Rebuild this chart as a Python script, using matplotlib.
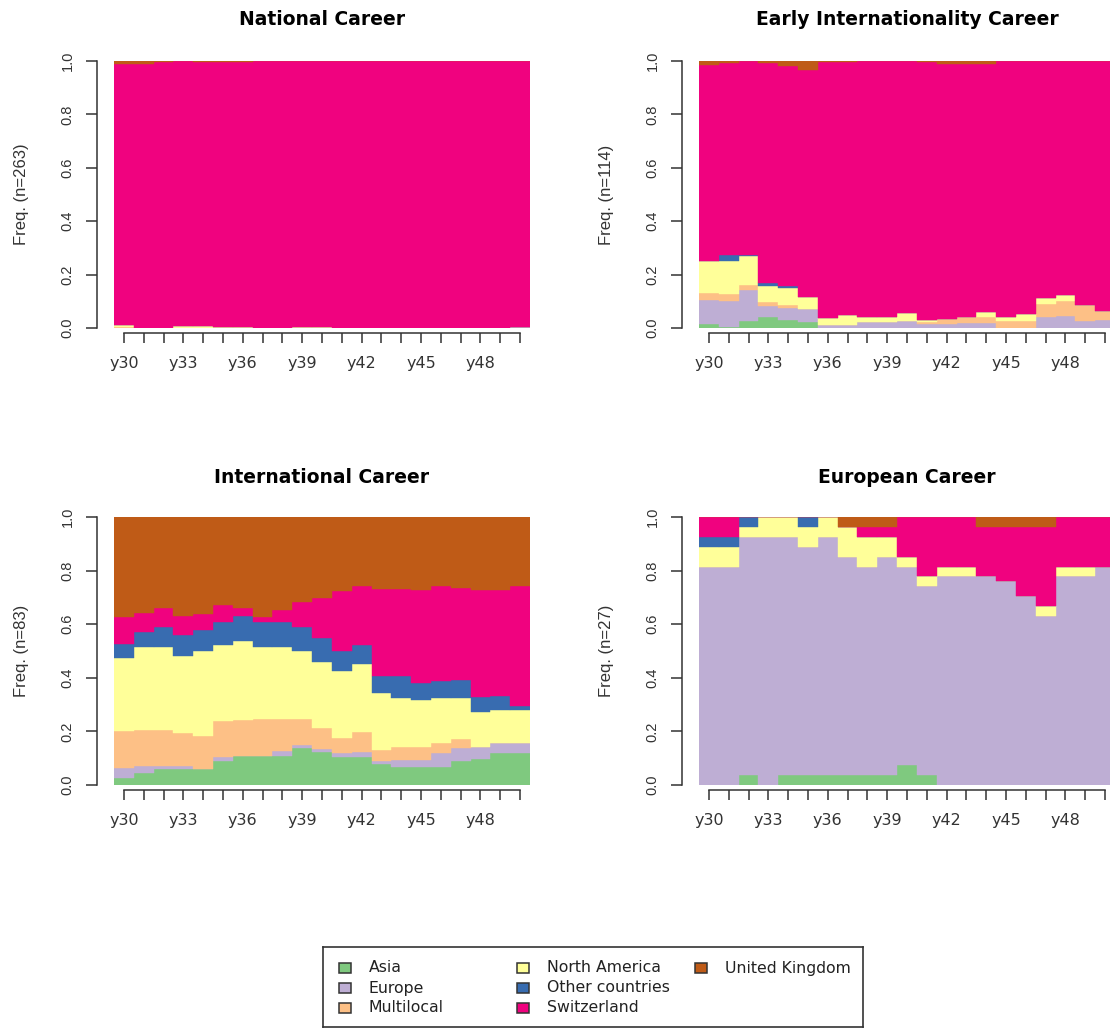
import numpy as np
import matplotlib
matplotlib.use("Agg")
import matplotlib.pyplot as plt
from matplotlib.patches import Rectangle

# time axis and states (TraMineR-style state distribution plot)
years = ["y30", "y31", "y32", "y33", "y34", "y35", "y36", "y37", "y38", "y39", "y40",
         "y41", "y42", "y43", "y44", "y45", "y46", "y47", "y48", "y49", "y50"]
states = ["Asia", "Europe", "Multilocal", "North America", "Other countries",
          "Switzerland", "United Kingdom"]
state_colors = ["#7FC97F", "#BEAED4", "#FDC086", "#FFFF99", "#386CB0", "#F0027F", "#BF5B17"]

# National Career (n=263)
nat_asia = [0] * 21
nat_europe = [0, 0, 0, 0, 0, 0, 0, 0, 0, 0, 0, 0, 0, 0, 0, 0, 0, 0, 0, 0, 0.004]
nat_multi = [0.004, 0, 0, 0, 0, 0, 0, 0, 0, 0, 0, 0, 0, 0, 0, 0, 0, 0, 0, 0, 0]
nat_namerica = [0.008, 0, 0, 0.008, 0.008, 0.004, 0.004, 0, 0, 0.004, 0.004,
                0, 0, 0, 0, 0, 0, 0, 0, 0, 0]
nat_other = [0] * 21
nat_swiss = [0.977, 0.989, 0.996, 0.992, 0.988, 0.992, 0.992, 1.0, 1.0, 0.996, 0.996,
             1.0, 1.0, 1.0, 1.0, 1.0, 1.0, 1.0, 1.0, 1.0, 0.996]
nat_uk = [0.011, 0.011, 0.004, 0, 0.004, 0.004, 0.004, 0, 0, 0, 0,
          0, 0, 0, 0, 0, 0, 0, 0, 0, 0]

# Early Internationality Career (n=114)
early_asia = [0.015, 0.005, 0.028, 0.04, 0.03, 0.023, 0, 0, 0, 0, 0,
              0, 0, 0, 0, 0, 0, 0, 0, 0, 0]
early_europe = [0.088, 0.095, 0.113, 0.044, 0.045, 0.05, 0.013, 0.013, 0.023, 0.023, 0.028,
                0.015, 0.015, 0.019, 0.019, 0, 0, 0.041, 0.046, 0.025, 0.031]
early_multi = [0.029, 0.028, 0.019, 0.014, 0.01, 0, 0, 0, 0, 0, 0,
               0.006, 0.019, 0.021, 0.021, 0.025, 0.028, 0.05, 0.054, 0.06, 0.031]
early_namerica = [0.118, 0.123, 0.11, 0.061, 0.063, 0.044, 0.025, 0.034, 0.018, 0.018, 0.029,
                  0.009, 0, 0, 0.019, 0.015, 0.023, 0.021, 0.024, 0, 0]
early_other = [0, 0.024, 0.005, 0.01, 0.009, 0, 0, 0, 0, 0, 0,
               0, 0, 0, 0, 0, 0, 0, 0, 0, 0]
early_swiss = [0.735, 0.719, 0.725, 0.825, 0.825, 0.849, 0.957, 0.948, 0.959, 0.959, 0.943,
               0.965, 0.955, 0.949, 0.930, 0.96, 0.949, 0.888, 0.876, 0.915, 0.938]
early_uk = [0.015, 0.006, 0, 0.006, 0.018, 0.034, 0.005, 0.005, 0, 0, 0,
            0.005, 0.011, 0.011, 0.011, 0, 0, 0, 0, 0, 0]

# International Career (n=83)
intl_asia = [0.027, 0.043, 0.061, 0.061, 0.061, 0.089, 0.109, 0.109, 0.109, 0.139, 0.122,
             0.106, 0.106, 0.078, 0.068, 0.068, 0.068, 0.089, 0.096, 0.118, 0.118]
intl_europe = [0.035, 0.027, 0.01, 0.01, 0, 0.016, 0, 0, 0.019, 0.01, 0.011,
               0.012, 0.019, 0.011, 0.027, 0.027, 0.053, 0.05, 0.047, 0.037, 0.037]
intl_multi = [0.139, 0.134, 0.134, 0.124, 0.122, 0.133, 0.135, 0.139, 0.12, 0.096, 0.078,
              0.058, 0.071, 0.043, 0.047, 0.047, 0.034, 0.032, 0, 0, 0]
intl_namerica = [0.273, 0.311, 0.311, 0.287, 0.317, 0.283, 0.293, 0.267, 0.267, 0.255, 0.248,
                 0.25, 0.255, 0.211, 0.184, 0.174, 0.168, 0.155, 0.13, 0.124, 0.124]
intl_other = [0.053, 0.056, 0.072, 0.077, 0.078, 0.087, 0.093, 0.093, 0.093, 0.088, 0.089,
              0.073, 0.072, 0.062, 0.08, 0.066, 0.065, 0.067, 0.056, 0.053, 0.016]
intl_swiss = [0.099, 0.072, 0.073, 0.072, 0.06, 0.062, 0.03, 0.019, 0.046, 0.096, 0.15,
              0.224, 0.221, 0.327, 0.327, 0.344, 0.355, 0.343, 0.398, 0.394, 0.447]
intl_uk = [0.373, 0.357, 0.339, 0.369, 0.363, 0.329, 0.339, 0.373, 0.345, 0.317, 0.301,
           0.277, 0.257, 0.267, 0.267, 0.273, 0.257, 0.263, 0.273, 0.273, 0.257]

# European Career (n=27)
euro_asia = [0, 0, 0.037, 0, 0.037, 0.037, 0.037, 0.037, 0.037, 0.037, 0.074,
             0.037, 0, 0, 0, 0, 0, 0, 0, 0, 0]
euro_europe = [0.815, 0.815, 0.889, 0.926, 0.889, 0.852, 0.889, 0.815, 0.778, 0.815, 0.741,
               0.704, 0.778, 0.778, 0.778, 0.76, 0.704, 0.63, 0.778, 0.778, 0.815]
euro_multi = [0] * 21
euro_namerica = [0.074, 0.074, 0.037, 0.074, 0.074, 0.074, 0.074, 0.111, 0.111, 0.074, 0.037,
                 0.037, 0.037, 0.037, 0, 0, 0, 0.037, 0.037, 0.037, 0]
euro_other = [0.037, 0.037, 0.037, 0, 0, 0.037, 0, 0, 0, 0, 0,
              0, 0, 0, 0, 0, 0, 0, 0, 0, 0]
euro_swiss = [0.074, 0.074, 0, 0, 0, 0, 0, 0, 0.037, 0.037, 0.148,
              0.222, 0.185, 0.185, 0.185, 0.203, 0.259, 0.296, 0.185, 0.185, 0.185]
euro_uk = [0, 0, 0, 0, 0, 0, 0, 0.037, 0.037, 0.037, 0,
           0, 0, 0, 0.037, 0.037, 0.037, 0.037, 0, 0, 0]

panels = [
    ("National Career", 263,
     [nat_asia, nat_europe, nat_multi, nat_namerica, nat_other, nat_swiss, nat_uk]),
    ("Early Internationality Career", 114,
     [early_asia, early_europe, early_multi, early_namerica, early_other, early_swiss, early_uk]),
    ("International Career", 83,
     [intl_asia, intl_europe, intl_multi, intl_namerica, intl_other, intl_swiss, intl_uk]),
    ("European Career", 27,
     [euro_asia, euro_europe, euro_multi, euro_namerica, euro_other, euro_swiss, euro_uk]),
]

W, H = 1110, 1028
fig = plt.figure(figsize=(W / 100, H / 100), dpi=100)
axis_col = "#333333"


def add_axes_px(x0, y0, x1, y1):
    return fig.add_axes([x0 / W, 1 - y1 / H, (x1 - x0) / W, (y1 - y0) / H])


def draw_panel(ax, title, n, shares, title_pad, ylab_x):
    x = np.arange(len(years))
    bottom = np.zeros(len(years))
    for vals, col in zip(shares, state_colors):
        vals = np.array(vals, dtype=float)
        ax.bar(x, vals, width=1.0, bottom=bottom, color=col, edgecolor=col,
               linewidth=0.3)
        bottom += vals

    ax.set_xlim(-0.5, len(years) - 0.5)
    ax.set_ylim(0, 1)
    ax.patch.set_visible(False)
    for s in ("top", "right"):
        ax.spines[s].set_visible(False)
    for s in ("left", "bottom"):
        ax.spines[s].set_color(axis_col)
        ax.spines[s].set_linewidth(1.1)
    ax.spines["left"].set_position(("outward", 12))
    ax.spines["left"].set_bounds(0, 1)
    ax.spines["bottom"].set_position(("outward", 3.8))
    ax.spines["bottom"].set_bounds(0, len(years) - 1)

    ax.set_yticks([0, 0.2, 0.4, 0.6, 0.8, 1.0])
    ax.set_yticklabels(["0.0", "0.2", "0.4", "0.6", "0.8", "1.0"], rotation=90,
                       va="center", family="Liberation Sans", fontsize=10.5,
                       color=axis_col)
    ax.set_xticks(x)
    ax.set_xticklabels([lab if i % 3 == 0 else "" for i, lab in enumerate(years)],
                       fontsize=11.5, color=axis_col)
    ax.tick_params(axis="y", direction="out", length=8, width=1.1, color=axis_col, pad=8.5)
    ax.tick_params(axis="x", direction="out", length=7, width=1.1, color=axis_col, pad=9.5)

    ax.set_title(title, fontsize=13.5, fontweight="bold", pad=title_pad)
    bb = ax.get_position()
    fig.text(ylab_x / W, bb.y0 + bb.height / 2, "Freq. (n=%d)" % n, rotation=90,
             ha="center", va="center", family="Liberation Sans", fontsize=12,
             color=axis_col)


boxes = [(114, 61, 530, 328), (699, 61, 1115, 328),
         (114, 517, 530, 785), (699, 517, 1115, 785)]
pads = [26, 26, 24.5, 24.5]
ylab_xs = [22, 607, 22, 607]
for (title, n, shares), box, pad, ylx in zip(panels, boxes, pads, ylab_xs):
    draw_panel(add_axes_px(*box), title, n, shares, pad, ylx)

# legend box below the panels
lax = add_axes_px(323, 947, 863, 1027)
lax.set_xlim(0, 540)
lax.set_ylim(80, 0)
lax.set_xticks([])
lax.set_yticks([])
for s in lax.spines.values():
    s.set_color(axis_col)
    s.set_linewidth(1.2)
for i, (name, col) in enumerate(zip(states, state_colors)):
    c, r = divmod(i, 3)
    cx, cy = 22 + 178 * c, 21 + 20 * r
    lax.add_patch(Rectangle((cx - 6, cy - 5), 12, 10, facecolor=col,
                            edgecolor=axis_col, linewidth=1.1))
    lax.text(46 + 178 * c, cy, name, va="center", ha="left", fontsize=11.3,
             color="#222222")

fig.savefig("out.png", dpi=100)
